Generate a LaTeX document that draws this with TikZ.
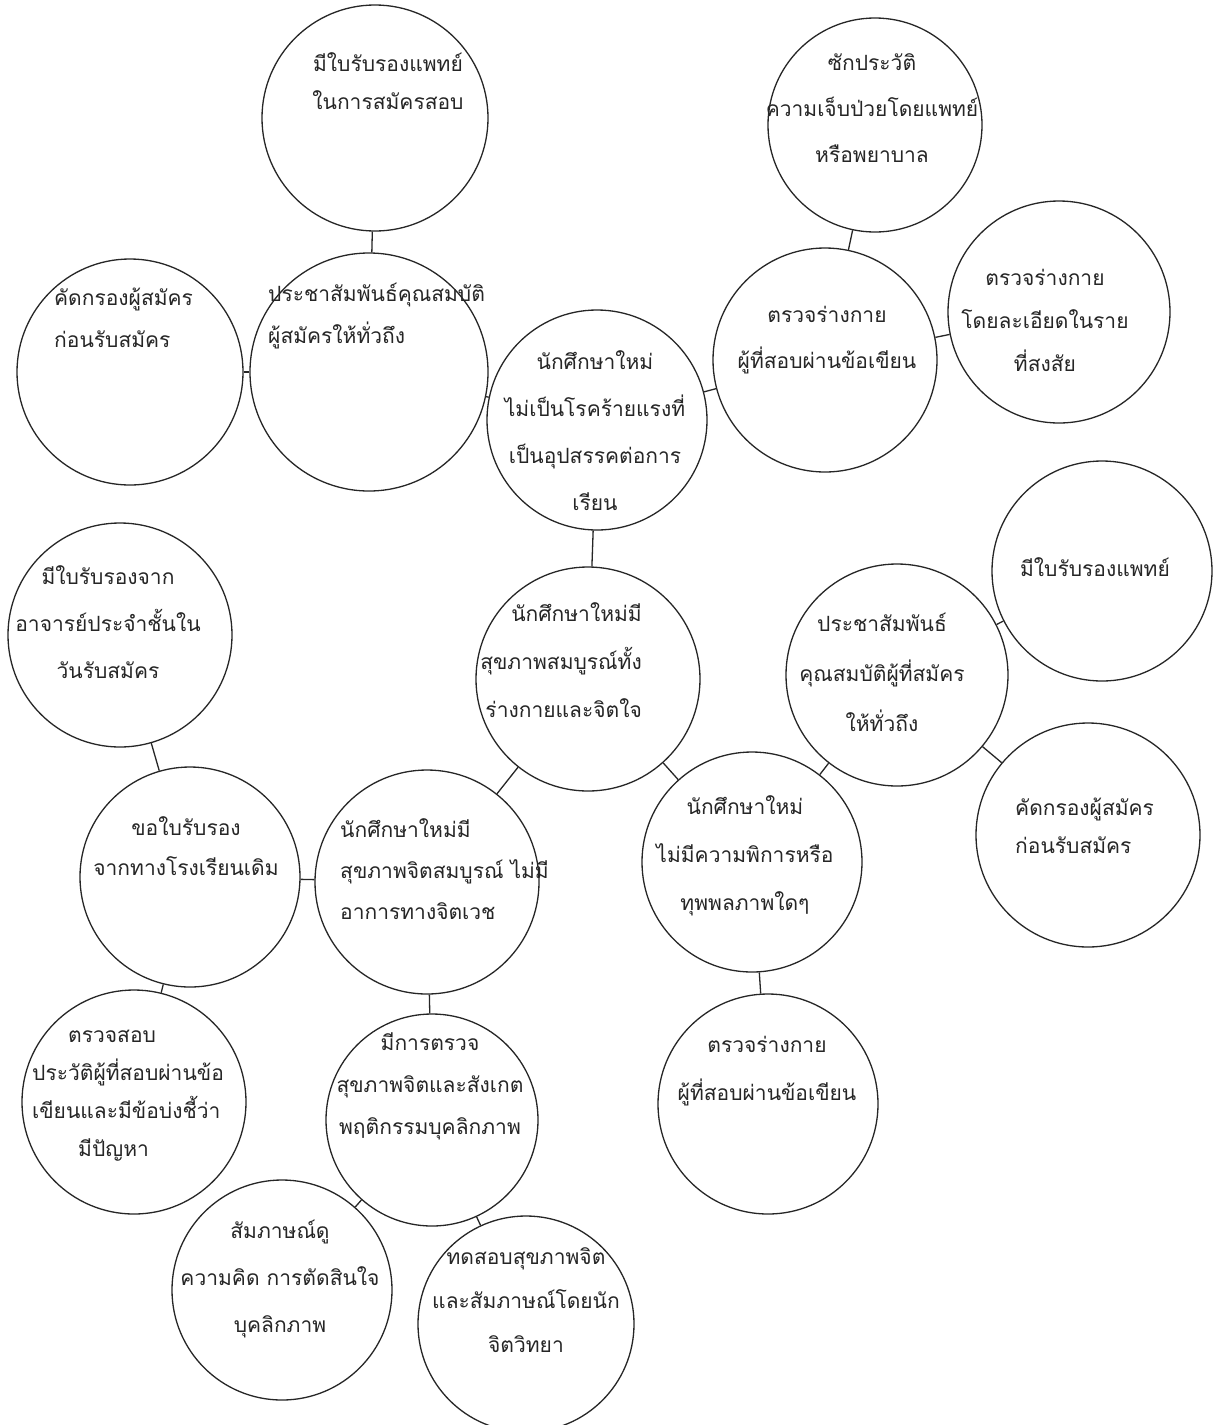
\documentclass[tikz,border=0pt]{standalone}
\usepackage{fontspec}
\newfontfamily\thaifont[Script=Thai]{Loma}
\begin{document}
\begin{tikzpicture}[x=1pt,y=-1pt,
  bub/.style={circle, draw=black!85, line width=1.3pt, inner sep=0pt},
  link/.style={draw=black!85, line width=1.3pt},
  txt/.style={font=\thaifont\fontsize{21}{45}\selectfont, align=center, inner sep=0pt, text=black!85},
  txtl/.style={txt, align=left, anchor=west},
  txtr/.style={txt, align=right, anchor=east}]
\useasboundingbox (0,0) rectangle (1224,1425);
\fill[white] (0,0) rectangle (1224,1425);
% circles
\node[bub, minimum size=226pt] (c1) at (375,118) {};
\node[bub, minimum size=214pt] (c2) at (875,125) {};
\node[bub, minimum size=226pt] (c3) at (130,372) {};
\node[bub, minimum size=238pt] (c4) at (369,372) {};
\node[bub, minimum size=220pt] (c5) at (597,420) {};
\node[bub, minimum size=224pt] (c6) at (825,360) {};
\node[bub, minimum size=222pt] (c7) at (1059,312) {};
\node[bub, minimum size=224pt] (c8) at (120,635) {};
\node[bub, minimum size=224pt] (c9) at (588,679) {};
\node[bub, minimum size=220pt] (c10) at (1102,571) {};
\node[bub, minimum size=222pt] (c11) at (897,675) {};
\node[bub, minimum size=224pt] (c12) at (1088,835) {};
\node[bub, minimum size=220pt] (c13) at (190,877) {};
\node[bub, minimum size=224pt] (c14) at (427,882) {};
\node[bub, minimum size=220pt] (c15) at (752,862) {};
\node[bub, minimum size=224pt] (c16) at (134,1102) {};
\node[bub, minimum size=212pt] (c17) at (432,1120) {};
\node[bub, minimum size=220pt] (c18) at (768,1104) {};
\node[bub, minimum size=220pt] (c19) at (282,1290) {};
\node[bub, minimum size=216pt] (c20) at (526,1324) {};
% connectors
\path[link] (c1) -- (c4);
\path[link] (c3) -- (c4);
\path[link] (c4) -- (c5);
\path[link] (c5) -- (c6);
\path[link] (c2) -- (c6);
\path[link] (c6) -- (c7);
\path[link] (c5) -- (c9);
\path[link] (c9) -- (c14);
\path[link] (c9) -- (c15);
\path[link] (c10) -- (c11);
\path[link] (c11) -- (c12);
\path[link] (c11) -- (c15);
\path[link] (c8) -- (c13);
\path[link] (c13) -- (c14);
\path[link] (c13) -- (c16);
\path[link] (c14) -- (c17);
\path[link] (c15) -- (c18);
\path[link] (c17) -- (c19);
\path[link] (c17) -- (c20);
% texts
\node[txt, font=\thaifont\fontsize{21}{38}\selectfont] (t1) at (388,81) {มีใบรับรองแพทย์\\ในการสมัครสอบ};
\node[txt, font=\thaifont\fontsize{21}{46}\selectfont] (t2) at (872,108) {ซักประวัติ\\ความเจ็บป่วยโดยแพทย์\\หรือพยาบาล};
\node[txtl, font=\thaifont\fontsize{21}{42}\selectfont] (t3) at (54,318) {คัดกรองผู้สมัคร\\ก่อนรับสมัคร};
\node[txtl, font=\thaifont\fontsize{21}{42}\selectfont] (t4) at (268,316) {ประชาสัมพันธ์คุณสมบัติ\\ผู้สมัครให้ทั่วถึง};
\node[txt, font=\thaifont\fontsize{21}{47}\selectfont] (t5) at (595,431) {นักศึกษาใหม่\\ไม่เป็นโรคร้ายแรงที่\\เป็นอุปสรรคต่อการ\\เรียน};
\node[txt, font=\thaifont\fontsize{21}{46}\selectfont] (t6) at (827,340) {ตรวจร่างกาย\\ผู้ที่สอบผ่านข้อเขียน};
\node[txt, font=\thaifont\fontsize{21}{43}\selectfont] (t7) at (1045,320) {ตรวจร่างกาย\\โดยละเอียดในราย\\ที่สงสัย};
\node[txt, font=\thaifont\fontsize{21}{47}\selectfont] (t8) at (108,622) {มีใบรับรองจาก\\อาจารย์ประจำชั้นใน\\วันรับสมัคร};
\node[txtr, font=\thaifont\fontsize{21}{48}\selectfont] (t9) at (642,660) {นักศึกษาใหม่มี\\สุขภาพสมบูรณ์ทั้ง\\ร่างกายและจิตใจ};
\node[txt] (t10) at (1095,567) {มีใบรับรองแพทย์};
\node[txt, font=\thaifont\fontsize{21}{50}\selectfont] (t11) at (882,672) {ประชาสัมพันธ์\\คุณสมบัติผู้ที่สมัคร\\ให้ทั่วถึง};
\node[txtl, font=\thaifont\fontsize{21}{38}\selectfont] (t12) at (1015,826) {คัดกรองผู้สมัคร\\ก่อนรับสมัคร};
\node[txt, font=\thaifont\fontsize{21}{40}\selectfont] (t13) at (186,846) {ขอใบรับรอง\\จากทางโรงเรียนเดิม};
\node[txtl, font=\thaifont\fontsize{21}{41}\selectfont] (t14) at (340,869) {นักศึกษาใหม่มี\\สุขภาพจิตสมบูรณ์ ไม่มี\\อาการทางจิตเวช};
\node[txt, font=\thaifont\fontsize{21}{48}\selectfont] (t15) at (745,856) {นักศึกษาใหม่\\ไม่มีความพิการหรือ\\ทุพพลภาพใดๆ};
\node[txtl, font=\thaifont\fontsize{21}{38}\selectfont] (t16) at (32,1096) {\hspace*{36pt}ตรวจสอบ\\ประวัติผู้ที่สอบผ่านข้อ\\เขียนและมีข้อบ่งชี้ว่า\\\hspace*{46pt}มีปัญหา};
\node[txt, font=\thaifont\fontsize{21}{42}\selectfont] (t17) at (430,1086) {มีการตรวจ\\สุขภาพจิตและสังเกต\\พฤติกรรมบุคลิกภาพ};
\node[txt, font=\thaifont\fontsize{21}{48}\selectfont] (t18) at (767,1071) {ตรวจร่างกาย\\ผู้ที่สอบผ่านข้อเขียน};
\node[txt, font=\thaifont\fontsize{21}{47}\selectfont] (t19) at (280,1279) {สัมภาษณ์ดู\\ความคิด การตัดสินใจ\\บุคลิกภาพ};
\node[txt, font=\thaifont\fontsize{21}{44}\selectfont] (t20) at (526,1300) {ทดสอบสุขภาพจิต\\และสัมภาษณ์โดยนัก\\จิตวิทยา};
\end{tikzpicture}
\end{document}
